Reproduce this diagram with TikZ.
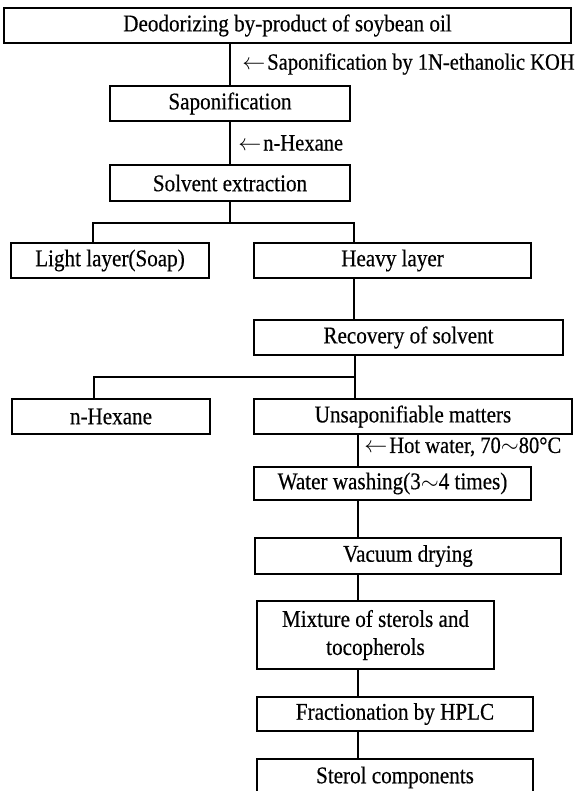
\documentclass[tikz,border=0pt]{standalone}
\usepackage{fontspec}
\setmainfont[FakeStretch=0.88,FakeBold=0.4]{Liberation Serif}

\tikzset{
	procbox/.style={draw, line width=1.1pt, inner sep=0pt, align=center, font=\fontsize{18}{21}\selectfont},
	flowline/.style={line width=1.4pt},
	addlabel/.style={anchor=west, inner sep=0pt, font=\fontsize{17.5}{21}\selectfont}
}

\begin{document}
\begin{tikzpicture}[x=0.75pt,y=0.75pt,yscale=-1,xscale=1]
	\useasboundingbox (0,0) rectangle (581,791);
	
	% Process boxes
	\node [procbox, minimum width=425.3pt, minimum height=26.3pt] (feed) at (287.5,25.5) {Deodorizing by-product of soybean oil};
	\node [procbox, minimum width=180pt, minimum height=26.3pt] (sapon) at (230,103.5) {Saponification};
	\node [procbox, minimum width=180pt, minimum height=27pt] (extract) at (230,183) {Solvent extraction};
	\node [procbox, minimum width=148.5pt, minimum height=26.3pt] (light) at (110,260.5) {Light layer(Soap)};
	\node [procbox, minimum width=207.8pt, minimum height=26.3pt] (heavy) at (392.5,260.5) {Heavy layer};
	\node [procbox, minimum width=231.8pt, minimum height=26.3pt] (recov) at (408.5,337.5) {Recovery of solvent};
	\node [procbox, minimum width=148.5pt, minimum height=26.3pt] (hexane) at (111,416.5) {n-Hexane};
	\node [procbox, minimum width=238.5pt, minimum height=26.3pt] (unsap) at (413,416.5) {Unsaponifiable matters};
	\node [procbox, minimum width=207.8pt, minimum height=24.8pt] (wash) at (392.5,483.5) {Water washing(3$\sim$4 times)};
	\node [procbox, minimum width=229.5pt, minimum height=27pt] (vacuum) at (408,556) {Vacuum drying};
	\node [procbox, minimum width=177.8pt, minimum height=51pt] (mixture) at (375.5,635) {Mixture of sterols and\\tocopherols};
	\node [procbox, minimum width=207pt, minimum height=25.5pt] (fraction) at (395,714) {Fractionation by HPLC};
	\node [procbox, minimum width=207pt, minimum height=27.8pt] (sterol) at (395,777.5) {Sterol components};
	
	% Junction points
	\coordinate (splitL) at (93,223);
	\coordinate (splitR) at (354,223);
	\coordinate (split2L) at (94,377);
	\coordinate (split2R) at (355,377);
	\coordinate (spine) at (358,0);
	
	%Straight Lines
	\draw [flowline] (feed.south -| sapon.north) -- (sapon.north);
	\draw [flowline] (sapon) -- (extract);
	\draw [flowline] (extract) -- (extract.south |- splitL);
	\draw [flowline] (light.north -| splitL) -- (splitL) -- (splitR) -- (heavy.north -| splitR);
	\draw [flowline] (heavy.south -| splitR) -- (recov.north -| splitR);
	\draw [flowline] (recov.south -| split2R) -- (split2R);
	\draw [flowline] (hexane.north -| split2L) -- (split2L) -- (split2R) -- (unsap.north -| split2R);
	\draw [flowline] (unsap.south -| spine) -- (wash.north -| spine);
	\draw [flowline] (wash.south -| spine) -- (vacuum.north -| spine);
	\draw [flowline] (vacuum.south -| spine) -- (mixture.north -| spine);
	\draw [flowline] (mixture.south -| spine) -- (fraction.north -| spine);
	\draw [flowline] (fraction.south -| spine) -- (sterol.north -| spine);
	
	% Text Node
	\node [addlabel] (koh) at (242,64) {$\leftarrow$\hspace{1.5pt}Saponification by 1N-ethanolic KOH};
	% Text Node
	\node [addlabel] (solv) at (238,143) {$\leftarrow$\hspace{1.5pt}n-Hexane};
	% Text Node
	\node [addlabel] (hotw) at (364,447) {$\leftarrow$\hspace{1.5pt}Hot water, 70$\sim$80°C};
\end{tikzpicture}
\end{document}
